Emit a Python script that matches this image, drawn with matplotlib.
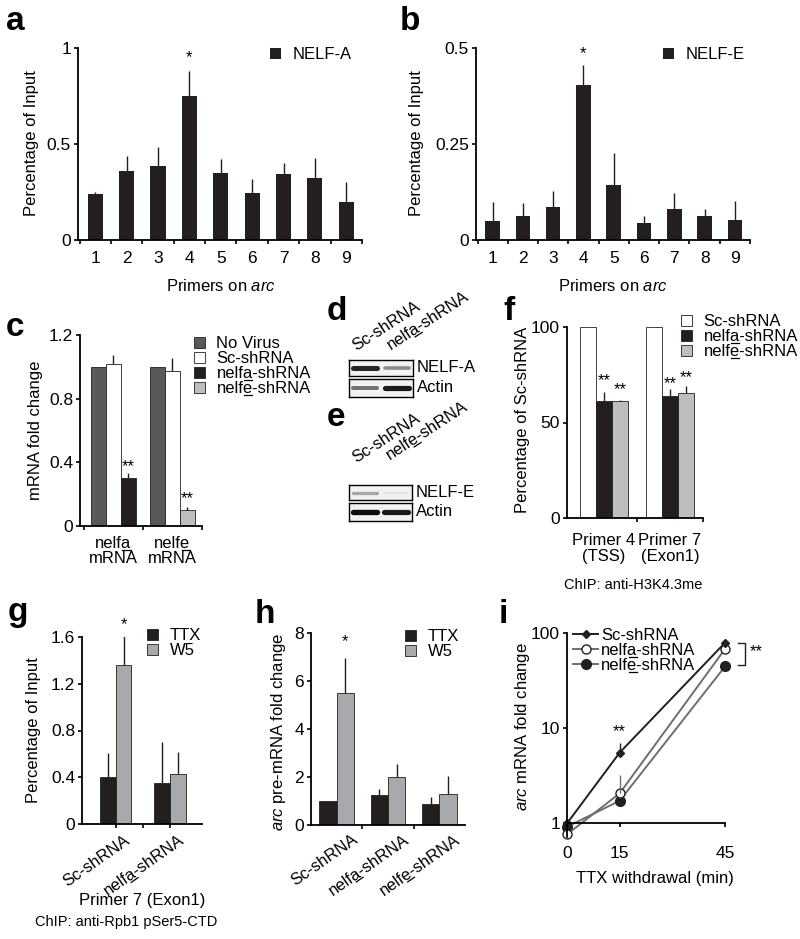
import numpy as np
import matplotlib
matplotlib.use('Agg')
import matplotlib.pyplot as plt
from matplotlib.transforms import ScaledTranslation
from matplotlib.lines import Line2D
from matplotlib.ticker import NullLocator

plt.rcParams['font.family'] = ['Liberation Sans', 'DejaVu Sans']
plt.rcParams['font.size'] = 12
plt.rcParams['mathtext.fontset'] = 'custom'
plt.rcParams['mathtext.rm'] = 'Liberation Sans'
plt.rcParams['mathtext.it'] = 'Liberation Sans:italic'

FS = 12       # labels / legends
TFS = 12.5    # tick labels
BLACK = '#231f20'
DGRAY = '#58595b'
LGRAY = '#a7a9ac'
LINEGRAY = '#6d6e71'

# '~' marks the next letter as underlined (drawn after layout)
NELFA = 'nelf~a'
NELFE = 'nelf~e'

# ---- data ----
# a, b: ChIP along arc
primers = [1, 2, 3, 4, 5, 6, 7, 8, 9]
nelfa_chip = [0.24, 0.36, 0.385, 0.75, 0.35, 0.245, 0.345, 0.325, 0.20]
nelfa_chip_err = [0.01, 0.075, 0.10, 0.13, 0.07, 0.075, 0.055, 0.10, 0.10]
nelfe_chip = [0.05, 0.062, 0.087, 0.404, 0.143, 0.043, 0.080, 0.062, 0.052]
nelfe_chip_err = [0.05, 0.034, 0.04, 0.051, 0.083, 0.019, 0.043, 0.018, 0.05]

# c: knockdown efficiency
targets_c = [NELFA + '\nmRNA', NELFE + '\nmRNA']
novirus_c = [1.0, 1.0]
sc_c = [1.018, 0.974]
sc_c_err = [0.056, 0.079]
nelfa_c = [0.304]          # nelfa mRNA only
nelfa_c_err = [0.026]
nelfe_c = [0.098]          # nelfe mRNA only
nelfe_c_err = [0.022]

# d, e: western blot band intensities (lane 1 = Sc, lane 2 = shRNA)
nelfa_band = [0.85, 0.45]
actin_d_band = [0.55, 0.9]
nelfe_band = [0.35, 0.1]
actin_e_band = [0.95, 0.9]

# f: H3K4me3 ChIP
primers_f = ['Primer 4\n(TSS)', 'Primer 7\n(Exon1)']
sc_f = [100, 100]
nelfa_f = [61, 64]
nelfa_f_err = [5.2, 3.3]
nelfe_f = [61, 65.6]
nelfe_f_err = [0.9, 3.4]

# g: Rpb1 pSer5 ChIP
shrna_g = ['Sc-shRNA', NELFA + '-shRNA']
ttx_g = [0.40, 0.353]
ttx_g_err = [0.21, 0.35]
w5_g = [1.36, 0.424]
w5_g_err = [0.255, 0.19]

# h: arc pre-mRNA
shrna_h = ['Sc-shRNA', NELFA + '-shRNA', NELFE + '-shRNA']
ttx_h = [1.0, 1.23, 0.89]
ttx_h_err = [0, 0.25, 0.29]
w5_h = [5.5, 2.0, 1.28]
w5_h_err = [1.46, 0.54, 0.76]

# i: arc mRNA time course
minutes = [0, 15, 45]
sc_i = [1.0, 5.54, 79]
sc_i_err = [0, 1.4, 0]
nelfa_i = [0.766, 2.07, 68]
nelfa_i_err = [0, 1.15, 0]
nelfe_i = [0.92, 1.73, 44.5]

# ---- layout helpers (pixel coordinates, origin top-left) ----
W, H = 800, 939
fig = plt.figure(figsize=(W / 100, H / 100), dpi=100)
underlined = []   # (Text, raw string with '~')


def clean(s):
    return s.replace('~', '')


def add_ax(l, t, r, b):
    return fig.add_axes([l / W, 1 - b / H, (r - l) / W, (b - t) / H])


def ftext(x, y, s, **kw):
    kw.setdefault('fontsize', FS)
    t = fig.text(x / W, 1 - y / H, clean(s), **kw)
    if '~' in s:
        underlined.append((t, s))
    return t


def style(ax):
    for s in ['top', 'right']:
        ax.spines[s].set_visible(False)
    for s in ['left', 'bottom']:
        ax.spines[s].set_linewidth(1.3)
    ax.tick_params(direction='out', length=3, width=1.2, pad=2, labelsize=TFS)
    ax.patch.set_alpha(0)


def set_xlabels(ax, pos, labels, **kw):
    ax.set_xticks(pos, labels=[clean(s) for s in labels], **kw)
    for t, s in zip(ax.get_xticklabels(), labels):
        if '~' in s:
            underlined.append((t, s))


def up_err(ax, x, y, e, color=BLACK):
    ax.errorbar(x, y, yerr=[np.zeros(len(e)), e], fmt='none', ecolor=color,
                elinewidth=1, capsize=0)


def leg(ax, handles, labels, x, y, **kw):
    opts = dict(loc='upper left', bbox_to_anchor=(x / W, 1 - y / H),
                bbox_transform=fig.transFigure, frameon=False, borderpad=0,
                borderaxespad=0, handlelength=0.65, handleheight=0.65,
                handletextpad=0.7, labelspacing=0.0, fontsize=FS)
    opts.update(kw)
    lg = ax.legend(handles, [clean(s) for s in labels], **opts)
    for t, s in zip(lg.get_texts(), labels):
        if '~' in s:
            underlined.append((t, s))
    return lg


def panel(x, y, s):
    ftext(x, y, s, fontsize=24, fontweight='bold')


def shift_labels(ax, dx):
    for t in ax.get_xticklabels():
        t.set_transform(t.get_transform() + ScaledTranslation(dx / 100, 0, fig.dpi_scale_trans))


def draw_underlines():
    fig.canvas.draw()
    r = fig.canvas.get_renderer()
    inv = fig.transFigure.inverted()
    for t, raw in underlined:
        try:
            _, info, _ = t._get_layout(r)
        except Exception:
            continue
        posx, posy = t.get_transform().transform(t.get_unitless_position())
        ang = np.deg2rad(t.get_rotation())
        u = np.array([np.cos(ang), np.sin(ang)])
        n = np.array([np.sin(ang), -np.cos(ang)])
        fp = t.get_fontproperties()
        for li, line_raw in enumerate(raw.split('\n')):
            k = line_raw.find('~')
            if k < 0 or li >= len(info):
                continue
            line = clean(line_raw)
            x, y = info[li][2], info[li][3]
            base = np.array([x + posx, y + posy])
            w1 = r.get_text_width_height_descent(line[:k], fp, ismath=False)[0] if k else 0
            w2 = r.get_text_width_height_descent(line[:k + 1], fp, ismath=False)[0]
            p = inv.transform([base + u * (w1 + 0.5) + n * 2.2, base + u * (w2 - 0.5) + n * 2.2])
            fig.add_artist(Line2D(p[:, 0], p[:, 1], color=t.get_color(), lw=0.9))


# ---- a ----
ax = add_ax(78, 48, 362, 240)
style(ax)
bars = ax.bar(primers, nelfa_chip, width=0.48, color=BLACK)
up_err(ax, primers, nelfa_chip, nelfa_chip_err)
ax.set_xlim(0.45, 9.5)
ax.set_ylim(0, 1)
ax.set_yticks([0, 0.5, 1], labels=['0', '0.5', '1'])
ax.set_xticks(primers)
ax.set_xticks(np.arange(0.5, 10), minor=True)
ax.tick_params(axis='x', which='major', length=0, pad=8)
ax.tick_params(axis='x', which='minor', direction='out', length=3, width=1.2)
ax.text(4, 0.95, '*', ha='center', va='center', fontsize=FS)
leg(ax, [bars], ['NELF-A'], 270, 47)
ftext(221, 286, 'Primers on $\\mathit{arc}$', ha='center', va='center')
ftext(32, 143, 'Percentage of Input', rotation=90, ha='center', va='center')
panel(6, 30, 'a')

# ---- b ----
ax = add_ax(476, 48, 750, 240)
style(ax)
bars = ax.bar(primers, nelfe_chip, width=0.48, color=BLACK)
up_err(ax, primers, nelfe_chip, nelfe_chip_err)
ax.set_xlim(0.45, 9.5)
ax.set_ylim(0, 0.5)
ax.set_yticks([0, 0.25, 0.5], labels=['0', '0.25', '0.5'])
ax.set_xticks(primers)
ax.set_xticks(np.arange(0.5, 10), minor=True)
ax.tick_params(axis='x', which='major', length=0, pad=8)
ax.tick_params(axis='x', which='minor', direction='out', length=3, width=1.2)
ax.text(4, 0.485, '*', ha='center', va='center', fontsize=FS)
leg(ax, [bars], ['NELF-E'], 663, 47)
ftext(613, 286, 'Primers on $\\mathit{arc}$', ha='center', va='center')
ftext(416, 143, 'Percentage of Input', rotation=90, ha='center', va='center')
panel(400, 30, 'b')

# ---- c ----
ax = add_ax(80, 335, 202, 526)
style(ax)
xc = np.arange(len(targets_c))
bw = 0.254
h1 = ax.bar(xc - bw, novirus_c, bw, color=DGRAY, edgecolor=BLACK, lw=0.6)
h2 = ax.bar(xc, sc_c, bw, color='white', edgecolor=BLACK, lw=0.6)
h3 = ax.bar(xc[:1] + bw, nelfa_c, bw, color=BLACK, edgecolor=BLACK, lw=0.6)
h4 = ax.bar(xc[1:] + bw, nelfe_c, bw, color='#bcbec0', edgecolor=BLACK, lw=0.6)
up_err(ax, xc, sc_c, sc_c_err)
up_err(ax, xc[:1] + bw, nelfa_c, nelfa_c_err)
up_err(ax, xc[1:] + bw, nelfe_c, nelfe_c_err)
ax.text(bw, 0.37, '**', ha='center', va='center', fontsize=FS)
ax.text(1 + bw, 0.17, '**', ha='center', va='center', fontsize=FS)
ax.set_xlim(-0.56, 1.5)
ax.set_ylim(0, 1.2)
ax.set_yticks([0, 0.4, 0.8, 1.2], labels=['0', '0.4', '0.8', '1.2'])
set_xlabels(ax, xc, targets_c)
ax.set_xticks([-0.5, 0.5, 1.5], minor=True)
ax.tick_params(axis='x', which='major', length=0, pad=7, labelsize=FS)
ax.tick_params(axis='x', which='minor', direction='out', length=3, width=1.2)
for t in ax.get_xticklabels():
    t.set_linespacing(1.05)
leg(ax, [h1, h2, h3, h4],
    ['No Virus', 'Sc-shRNA', NELFA + '-shRNA', NELFE + '-shRNA'], 194, 336)
ftext(36, 430, 'mRNA fold change', rotation=90, ha='center', va='center')
panel(6, 336, 'c')


# ---- d, e: blots ----
def blot(l, t, r, b, bands):
    bx = add_ax(l, t, r, b)
    bx.set_xlim(0, 2)
    bx.set_ylim(0, 1)
    bx.set_xticks([])
    bx.set_yticks([])
    bx.set_facecolor('#f2f2f2')
    for sp in bx.spines.values():
        sp.set_linewidth(1)
    for i, v in enumerate(bands):
        bx.plot([i + 0.12, i + 0.88], [0.5, 0.5], color=str(round(1 - v, 2)),
                lw=1.5 + 2.5 * v, solid_capstyle='round')
    return bx


ROT = dict(rotation=33, rotation_mode='anchor', ha='left', va='baseline', fontsize=12)
blot(349, 360, 413, 376, nelfa_band)
blot(349, 379, 413, 397, actin_d_band)
ftext(417, 368, 'NELF-A', va='center')
ftext(417, 388, 'Actin', va='center')
ftext(356, 351, 'Sc-shRNA', **ROT)
ftext(391, 350, NELFA + '-shRNA', **ROT)
panel(327, 320, 'd')

blot(349, 485, 412, 500, nelfe_band)
blot(349, 503, 412, 521, actin_e_band)
ftext(416, 492, 'NELF-E', va='center')
ftext(416, 512, 'Actin', va='center')
ftext(356, 463, 'Sc-shRNA', **ROT)
ftext(390, 460, NELFE + '-shRNA', **ROT)
panel(327, 426, 'e')

# ---- f ----
ax = add_ax(567, 327, 703, 518)
style(ax)
xf = np.arange(len(primers_f))
bw = 0.247
h1 = ax.bar(xf - bw, sc_f, bw, color='white', edgecolor=BLACK, lw=0.6)
h2 = ax.bar(xf, nelfa_f, bw, color=BLACK, edgecolor=BLACK, lw=0.6)
h3 = ax.bar(xf + bw, nelfe_f, bw, color='#bcbec0', edgecolor=BLACK, lw=0.6)
up_err(ax, xf, nelfa_f, nelfa_f_err)
up_err(ax, xf + bw, nelfe_f, nelfe_f_err)
for xi, yi in zip(list(xf) + list(xf + bw), [72, 70.5, 67, 73.5]):
    ax.text(xi, yi, '**', ha='center', va='center', fontsize=FS)
ax.set_xlim(-0.56, 1.5)
ax.set_ylim(0, 100)
ax.set_yticks([0, 50, 100])
ax.set_xticks(xf, labels=primers_f)
ax.set_xticks([0.5, 1.5], minor=True)
ax.tick_params(axis='x', which='major', length=0, pad=11, labelsize=FS)
ax.tick_params(axis='x', which='minor', direction='out', length=3, width=1.2)
for t in ax.get_xticklabels():
    t.set_linespacing(1.05)
leg(ax, [h1, h2, h3], ['Sc-shRNA', NELFA + '-shRNA', NELFE + '-shRNA'], 681, 314)
ftext(633, 585, 'ChIP: anti-H3K4.3me', ha='center', va='center', fontsize=10.5)
ftext(523, 420, 'Percentage of Sc-shRNA', rotation=90, ha='center', va='center')
panel(503, 320, 'f')

# ---- g ----
ax = add_ax(82, 637, 202, 824)
style(ax)
xg = np.arange(len(shrna_g))
bw = 0.29
h1 = ax.bar(xg - bw / 2, ttx_g, bw, color=BLACK, edgecolor=BLACK, lw=0.6)
h2 = ax.bar(xg + bw / 2, w5_g, bw, color=LGRAY, edgecolor=BLACK, lw=0.6)
up_err(ax, xg - bw / 2, ttx_g, ttx_g_err)
up_err(ax, xg + bw / 2, w5_g, w5_g_err)
ax.text(bw / 2, 1.71, '*', ha='center', va='center', clip_on=False, fontsize=FS)
ax.set_xlim(-0.62, 1.59)
ax.set_ylim(0, 1.6)
ax.set_yticks([0, 0.4, 0.8, 1.2, 1.6], labels=['0', '0.4', '0.8', '1.2', '1.6'])
set_xlabels(ax, xg, shrna_g, rotation=35, ha='right', rotation_mode='anchor')
ax.set_xticks([0.5], minor=True)
ax.tick_params(axis='x', which='both', direction='out', length=3, width=1.2, pad=3, labelsize=FS)
shift_labels(ax, 8)
leg(ax, [h1, h2], ['TTX', 'W5'], 147, 628)
ftext(142, 900, 'Primer 7 (Exon1)', ha='center', va='center')
ftext(126, 922, 'ChIP: anti-Rpb1 pSer5-CTD', ha='center', va='center', fontsize=10.5)
ftext(34, 730, 'Percentage of Input', rotation=90, ha='center', va='center')
panel(8, 621, 'g')

# ---- h ----
ax = add_ax(311, 633, 465, 825)
style(ax)
xh = np.arange(len(shrna_h))
bw = 0.34
h1 = ax.bar(xh - bw / 2, ttx_h, bw, color=BLACK, edgecolor=BLACK, lw=0.6)
h2 = ax.bar(xh + bw / 2, w5_h, bw, color=LGRAY, edgecolor=BLACK, lw=0.6)
up_err(ax, xh - bw / 2, ttx_h, ttx_h_err)
up_err(ax, xh + bw / 2, w5_h, w5_h_err)
ax.text(bw / 2, 7.65, '*', ha='center', va='center', fontsize=FS)
ax.set_xlim(-0.5, 2.5)
ax.set_ylim(0, 8)
ax.set_yticks([0, 2, 4, 6, 8])
set_xlabels(ax, xh, shrna_h, rotation=35, ha='right', rotation_mode='anchor')
ax.set_xticks([0.5, 1.5], minor=True)
ax.tick_params(axis='x', which='major', length=0, pad=5, labelsize=FS)
ax.tick_params(axis='x', which='minor', direction='out', length=3, width=1.2)
shift_labels(ax, 15)
leg(ax, [h1, h2], ['TTX', 'W5'], 405, 629)
ftext(279, 732, '$\\mathit{arc}$ pre-mRNA fold change', rotation=90, ha='center', va='center')
panel(255, 623, 'h')

# ---- i ----
ax = add_ax(567, 633, 725, 837)
style(ax)
ax.set_yscale('log')
l3, = ax.plot(minutes, nelfe_i, '-o', color=LINEGRAY, mfc=BLACK, mec=BLACK, ms=7, lw=1.4, clip_on=False)
l2, = ax.plot(minutes, nelfa_i, '-o', color=LINEGRAY, mfc='white', mec=BLACK, ms=6.5, lw=1.4, clip_on=False)
l1, = ax.plot(minutes, sc_i, '-D', color=BLACK, mfc=BLACK, mec=BLACK, ms=4.5, lw=1.4, clip_on=False)
up_err(ax, minutes, sc_i, sc_i_err, color=BLACK)
up_err(ax, minutes, nelfa_i, nelfa_i_err, color=LINEGRAY)
ax.text(15, 9.2, '**', ha='center', va='center', fontsize=FS)
ax.set_xlim(0, 45)
ax.set_ylim(0.72, 100)
ax.spines['bottom'].set_position(('data', 1))
ax.set_yticks([1, 10, 100], labels=['1', '10', '100'])
ax.yaxis.set_minor_locator(NullLocator())
ax.set_xticks(minutes)
ax.tick_params(axis='x', pad=13)
leg(ax, [l1, l2, l3], ['Sc-shRNA', NELFA + '-shRNA', NELFE + '-shRNA'], 573, 628,
    handlelength=1.5, handletextpad=0.2)
fig.add_artist(Line2D(np.array([738, 745, 745, 738]) / W, 1 - np.array([643, 643, 665, 665]) / H,
                      color=BLACK, lw=1))
ftext(756, 652, '**', ha='center', va='center')
ftext(655, 878, 'TTX withdrawal (min)', ha='center', va='center')
ftext(522, 727, '$\\mathit{arc}$ mRNA fold change', rotation=90, ha='center', va='center')
panel(499, 623, 'i')

draw_underlines()
fig.savefig('out.png', dpi=100)
